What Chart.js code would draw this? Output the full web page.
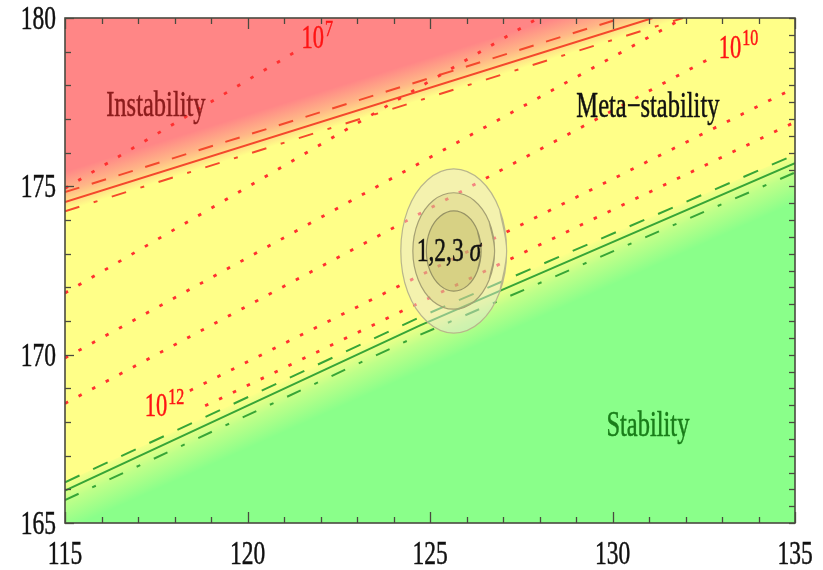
<!DOCTYPE html>
<html><head><meta charset="utf-8">
<script src="https://cdn.jsdelivr.net/npm/chart.js@4.4.1/dist/chart.umd.min.js"></script>
<style>html,body{margin:0;padding:0;background:#fff;}canvas{display:block;}</style>
</head><body>
<canvas id="c" width="823" height="570"></canvas>
<script>
// ---- axes (Higgs mass on x, top mass on y, GeV) ----
const xRange = [115, 135];
const yRange = [165, 180];
const xTickLabels = [115, 120, 125, 130, 135];
const yTickLabels = [165, 170, 175, 180];

// ---- instability boundary (red): central, upper (dashed), lower (dot-dashed) ----
const instabX      = [115, 131.1];
const instabY      = [174.53, 180];
const instabUpX    = [115, 130.25];
const instabUpY    = [174.83, 180];
const instabLowX   = [115, 131.93];
const instabLowY   = [174.26, 180];

// ---- stability boundary (green) ----
const stabX    = [115, 124.73, 135];
const stabY    = [165.96, 170.87, 175.69];
const stabUpY  = [166.21, 171.12, 175.94];
const stabLowY = [165.68, 170.59, 175.41];

// ---- instability-scale contours (dotted) ----
const lambda7X  = [115, 121.38];   const lambda7Y  = [174.94, 179.04];
const lambda8X  = [115, 127.97];   const lambda8Y  = [171.83, 180];
const lambda9X  = [115, 131.95];   const lambda9Y  = [169.90, 180];
const lambda10X = [115, 132.81];   const lambda10Y = [168.55, 178.88];
const lambda12X = [118.42, 135];   const lambda12Y = [168.93, 177.93];
const lambda13X = [118.84, 135];   const lambda13Y = [168.48, 176.91];

// ---- 1,2,3 sigma regions (closed contours, first/last points overlap) ----
const sigma1X = [126.30,126.40,126.30,126.03,125.65,125.28,125.00,124.90,125.00,125.28,125.65,126.03,126.30,126.40,126.30];
const sigma1Y = [172.49,173.08,173.68,174.11,174.27,174.11,173.68,173.08,172.49,172.05,171.89,172.05,172.49,173.08,173.68];
const sigma2X = [126.62,126.77,126.62,126.21,125.65,125.09,124.68,124.53,124.68,125.09,125.65,126.21,126.62,126.77,126.62];
const sigma2Y = [172.22,173.08,173.95,174.58,174.81,174.58,173.95,173.08,172.22,171.58,171.35,171.58,172.22,173.08,173.95];
const sigma3X = [126.91,127.10,126.91,126.38,125.65,124.93,124.39,124.20,124.39,124.93,125.65,126.38,126.91,127.10,126.91];
const sigma3Y = [171.86,173.08,174.30,175.19,175.52,175.19,174.30,173.08,171.86,170.97,170.64,170.97,171.86,173.08,174.30];

// ---- text annotations ----
const regionText   = ['Instability', 'Meta\u2212stability', 'Stability'];
const regionX      = [117.49, 130.97, 130.97];
const regionY      = [177.38, 177.35, 167.86];
const regionColor  = ['rgb(140,28,28)', '#111111', 'rgb(25,125,25)'];
const contourExp   = ['7', '10', '12'];
const contourLblX  = [121.79, 133.22, 117.49];
const contourLblY  = [179.35, 179.08, 168.43];
const sigmaText    = '1,2,3';
const sigmaLblX    = 125.52;
const sigmaLblY    = 173.04;

// ---- styling ----
const PINK = [255, 134, 134];
const GREENBG = [138, 255, 138];
const YELLOW = 'rgb(255,255,136)';
const RED = 'rgb(244,72,44)';
const REDDOT = 'rgb(255,48,48)';
const GREEN = 'rgb(55,165,55)';
const SERIF = '"Liberation Serif","DejaVu Serif",serif';
const STRETCH = 1.45;

function series(xs, ys) { return xs.map((v, i) => ({x: v, y: ys[i]})); }

function bandGradient(chart, xs, ys, d0, d1, rgb, stops) {
  const area = chart.chartArea;
  const fallback = `rgba(${rgb[0]},${rgb[1]},${rgb[2]},0.6)`;
  if (!area || !chart.scales.x) return fallback;
  const xa = chart.scales.x, ya = chart.scales.y;
  const p0 = {x: xa.getPixelForValue(xs[0]), y: ya.getPixelForValue(ys[0])};
  const p1 = {x: xa.getPixelForValue(xs[xs.length - 1]), y: ya.getPixelForValue(ys[ys.length - 1])};
  let dx = p1.x - p0.x, dy = p1.y - p0.y;
  const L = Math.hypot(dx, dy); dx /= L; dy /= L;
  let nx = dy, ny = -dx;
  if (ny > 0) { nx = -nx; ny = -ny; }
  const g = chart.ctx.createLinearGradient(p0.x + nx * d0, p0.y + ny * d0, p0.x + nx * d1, p0.y + ny * d1);
  stops.forEach(s => g.addColorStop(s[0], `rgba(${rgb[0]},${rgb[1]},${rgb[2]},${s[1]})`));
  return g;
}

function stretchedText(ctx, str, px, py, size, color, align, italic) {
  ctx.save();
  ctx.translate(px, py);
  ctx.scale(1, STRETCH);
  ctx.font = (italic ? 'italic ' : '') + size + 'px ' + SERIF;
  ctx.fillStyle = color;
  ctx.strokeStyle = color;
  ctx.lineWidth = 0.35;
  ctx.textAlign = align;
  ctx.textBaseline = 'middle';
  ctx.fillText(str, 0, 0);
  ctx.strokeText(str, 0, 0);
  const w = ctx.measureText(str).width;
  ctx.restore();
  return w;
}

const framePlugin = {
  id: 'framePlugin',
  beforeDraw(chart) {
    const {ctx, chartArea: a} = chart;
    ctx.save();
    ctx.fillStyle = YELLOW;
    ctx.fillRect(a.left, a.top, a.right - a.left, a.bottom - a.top);
    ctx.restore();
  },
  afterDraw(chart) {
    const {ctx, chartArea: a} = chart;
    const x = chart.scales.x, y = chart.scales.y;
    // region labels
    regionText.forEach((t, i) => {
      stretchedText(ctx, t, x.getPixelForValue(regionX[i]), y.getPixelForValue(regionY[i]), 24.5, regionColor[i], 'center');
    });
    // contour labels 10^n
    contourExp.forEach((e, i) => {
      const cx = x.getPixelForValue(contourLblX[i]), cy = y.getPixelForValue(contourLblY[i]);
      const w = stretchedText(ctx, '10', cx, cy, 22.5, 'rgb(255,20,20)', 'center');
      stretchedText(ctx, e, cx + w / 2 + 1, cy - 10, 16, 'rgb(255,20,20)', 'left');
    });
    // sigma label
    const sx = x.getPixelForValue(sigmaLblX), sy = y.getPixelForValue(sigmaLblY);
    ctx.save();
    ctx.font = '23.5px ' + SERIF;
    const w1 = ctx.measureText(sigmaText + ' ').width;
    ctx.font = 'italic 23.5px ' + SERIF;
    const w2 = ctx.measureText('\u03c3').width;
    ctx.restore();
    const left = sx - (w1 + w2) / 2;
    stretchedText(ctx, sigmaText + ' ', left, sy, 23.5, '#111', 'left');
    stretchedText(ctx, '\u03c3', left + w1, sy, 23.5, '#111', 'left', true);

    // frame
    ctx.save();
    ctx.strokeStyle = '#4a4a40';
    ctx.lineWidth = 1.6;
    ctx.strokeRect(a.left, a.top, a.right - a.left, a.bottom - a.top);
    ctx.lineWidth = 1.3;
    const seg = (x0, y0, x1, y1) => { ctx.beginPath(); ctx.moveTo(x0, y0); ctx.lineTo(x1, y1); ctx.stroke(); };
    for (let v = xRange[0]; v <= xRange[1]; v += 1) {
      const px = Math.round(x.getPixelForValue(v)) + 0.5;
      const len = xTickLabels.includes(v) ? 11 : 6;
      seg(px, a.bottom, px, a.bottom - len);
      seg(px, a.top, px, a.top + len);
    }
    for (let v = yRange[0]; v <= yRange[1]; v += 1) {
      const py = Math.round(y.getPixelForValue(v)) + 0.5;
      const len = yTickLabels.includes(v) ? 9 : 6;
      seg(a.left, py, a.left + len, py);
    }
    for (let v = yRange[0]; v <= yRange[1]; v += 0.5) {
      const py = Math.round(y.getPixelForValue(v)) + 0.5;
      seg(a.right, py, a.right - 6, py);
    }
    ctx.restore();
    // tick labels
    yTickLabels.forEach(v => stretchedText(ctx, String(v), a.left - 9, y.getPixelForValue(v) + 2, 23.5, '#111', 'right'));
    xTickLabels.forEach(v => stretchedText(ctx, String(v), x.getPixelForValue(v), a.bottom + 32, 23.5, '#111', 'center'));
  }
};

function dotted(label, xs, ys) {
  return {label, data: series(xs, ys), borderColor: REDDOT, borderWidth: 2.8,
          borderDash: [3.5, 11.9], pointRadius: 0, fill: false, tension: 0, order: 10, clip: 0};
}

const datasets = [
  {label: '1 sigma', data: series(sigma1X, sigma1Y), fill: 'shape', backgroundColor: 'rgba(180,170,80,0.30)',
   borderColor: 'rgb(150,146,100)', borderWidth: 1.2, pointRadius: 0, tension: 0.35, order: 1, clip: 0},
  {label: '2 sigma', data: series(sigma2X, sigma2Y), fill: 'shape', backgroundColor: 'rgba(190,180,100,0.25)',
   borderColor: 'rgb(165,160,115)', borderWidth: 1.2, pointRadius: 0, tension: 0.35, order: 2, clip: 0},
  {label: '3 sigma', data: series(sigma3X, sigma3Y), fill: 'shape', backgroundColor: 'rgba(232,228,215,0.48)',
   borderColor: 'rgb(185,182,140)', borderWidth: 1.2, pointRadius: 0, tension: 0.35, order: 3, clip: 0},

  dotted('Lambda 1e7', lambda7X, lambda7Y),
  dotted('Lambda 1e8', lambda8X, lambda8Y),
  dotted('Lambda 1e9', lambda9X, lambda9Y),
  dotted('Lambda 1e10', lambda10X, lambda10Y),
  dotted('Lambda 1e12', lambda12X, lambda12Y),
  dotted('Lambda high', lambda13X, lambda13Y),

  {label: 'instability', data: series(instabX, instabY), borderColor: RED, borderWidth: 2,
   pointRadius: 0, fill: false, order: 20, clip: 0},
  {label: 'instability upper', data: series(instabUpX, instabUpY), borderColor: RED, borderWidth: 2,
   borderDash: [15, 13], pointRadius: 0, fill: false, order: 20, clip: 0},
  {label: 'stability', data: series(stabX, stabY), borderColor: GREEN, borderWidth: 2,
   pointRadius: 0, fill: false, order: 20, clip: 0},
  {label: 'stability lower', data: series(stabX, stabLowY), borderColor: GREEN, borderWidth: 2,
   borderDash: [15, 15, 4, 15], pointRadius: 0, fill: false, order: 20, clip: 0},

  {label: 'instability lower', data: series(instabLowX, instabLowY), borderColor: RED, borderWidth: 2,
   borderDash: [15, 15, 4, 15], pointRadius: 0, fill: 'end', order: 100, clip: 0,
   backgroundColor: c => bandGradient(c.chart, instabLowX, instabLowY, 0, 38, PINK, [[0, 0], [0.5, 0.6], [1, 1]])},
  {label: 'stability upper', data: series(stabX, stabUpY), borderColor: GREEN, borderWidth: 2,
   borderDash: [16, 15], pointRadius: 0, fill: 'start', order: 99, clip: 0,
   backgroundColor: c => bandGradient(c.chart, stabX, stabUpY, 4, -44, GREENBG, [[0, 0], [0.45, 0.55], [1, 1]])}
];

new Chart(document.getElementById('c'), {
  type: 'line',
  data: {datasets},
  options: {
    responsive: false,
    animation: false,
    devicePixelRatio: 1,
    layout: {padding: {left: 65, top: 18, right: 28, bottom: 47}},
    plugins: {legend: {display: false}, tooltip: {enabled: false}},
    scales: {
      x: {type: 'linear', min: xRange[0], max: xRange[1], display: false},
      y: {type: 'linear', min: yRange[0], max: yRange[1], display: false}
    }
  },
  plugins: [framePlugin]
});
</script>
</body></html>
